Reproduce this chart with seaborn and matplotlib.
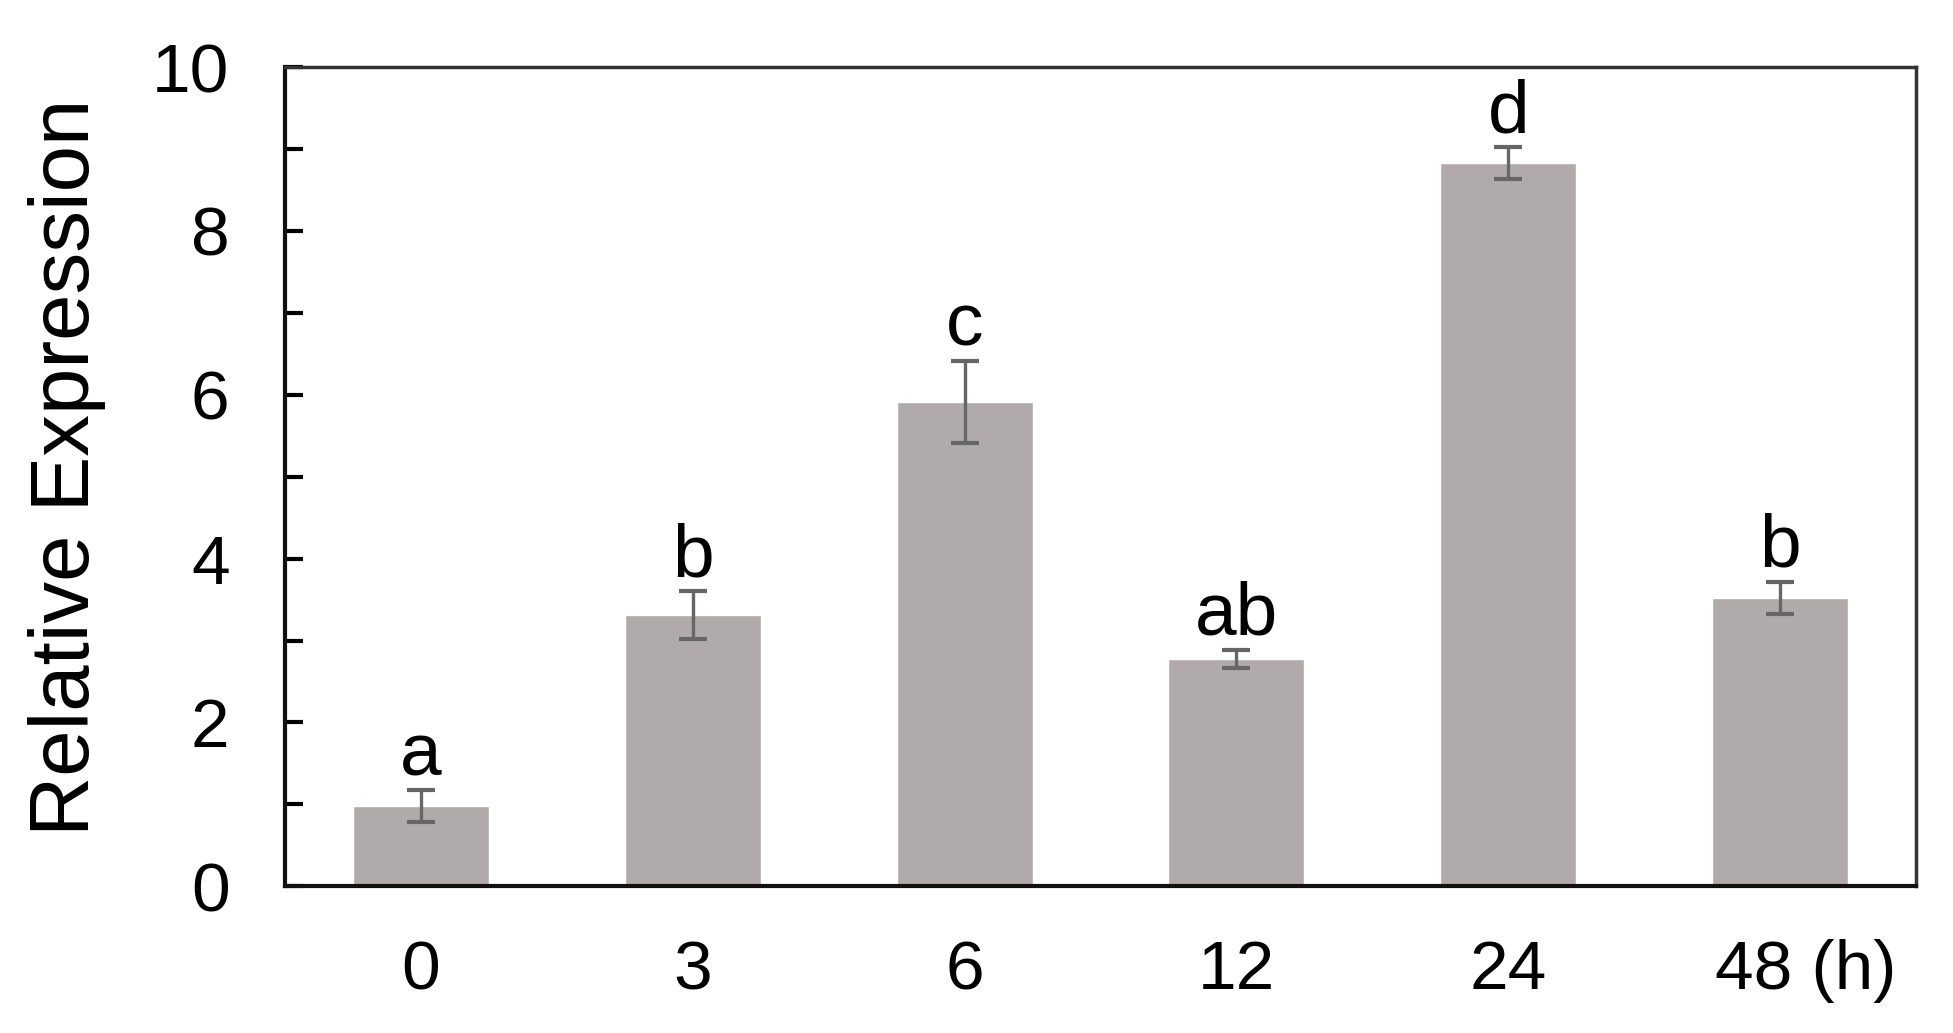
import matplotlib
matplotlib.use("Agg")
import matplotlib.pyplot as plt
import matplotlib.transforms as mtransforms
from matplotlib.ticker import MultipleLocator
import numpy as np
import pandas as pd
import seaborn as sns


# values
time_labels = ["0", "3", "6", "12", "24", "48 (h)"]
mean_expr = [0.98, 3.31, 5.91, 2.78, 8.83, 3.52]
sd_expr = [0.19, 0.29, 0.50, 0.11, 0.19, 0.20]
sig_letters = ["a", "b", "c", "ab", "d", "b"]

BAR_COLOR = "#b0abaa"
ERR_COLOR = "#666666"


def main() -> None:
    sns.set_theme(style="ticks")
    plt.rcParams["font.family"] = ["Liberation Sans", "DejaVu Sans"]

    df = pd.DataFrame({"time": time_labels, "mean": mean_expr, "sd": sd_expr})

    fig = plt.figure(figsize=(19.53, 10.33), dpi=100)
    ax = fig.add_axes([0.146, 0.142, 0.835, 0.793])

    sns.barplot(data=df, x="time", y="mean", color=BAR_COLOR, saturation=1,
                width=0.5, errorbar=None, ax=ax)

    xpos = np.arange(len(df))
    ax.errorbar(xpos, df["mean"], yerr=df["sd"], fmt="none", ecolor=ERR_COLOR,
                elinewidth=2.4, capsize=10, capthick=3, zorder=3)

    for i, row in df.iterrows():
        ax.annotate(sig_letters[i], (i, row["mean"] + row["sd"]),
                    xytext=(0, 11), textcoords="offset points",
                    ha="center", va="baseline", fontsize=54, color="black")

    ax.set_xlim(-0.5, 5.5)
    ax.set_ylim(0, 10)
    ax.yaxis.set_major_locator(MultipleLocator(2))
    ax.yaxis.set_minor_locator(MultipleLocator(1))
    ax.tick_params(axis="y", which="both", direction="in", length=13, width=3,
                   pad=40, labelsize=50, colors="black")
    ax.tick_params(axis="x", length=0, pad=38, labelsize=50, colors="black")

    ax.set_xlabel("")
    ax.set_ylabel("Relative Expression", fontsize=60, color="black")
    ax.yaxis.set_label_coords(-0.11, 0.511)

    for side in ["left", "bottom", "top", "right"]:
        ax.spines[side].set_visible(True)
        ax.spines[side].set_color("#111111")
        ax.spines[side].set_linewidth(3)
    ax.spines["top"].set_color("#333333")
    ax.spines["top"].set_linewidth(2.5)
    ax.spines["right"].set_color("#333333")
    ax.spines["right"].set_linewidth(2.5)

    # "48 (h)" sits with the number under the bar, unit trailing
    last = ax.get_xticklabels()[-1]
    last.set_transform(last.get_transform() +
                       mtransforms.ScaledTranslation(26 / 100, 0, fig.dpi_scale_trans))

    fig.savefig("out.png", dpi=100)
    plt.close(fig)


if __name__ == "__main__":
    main()
